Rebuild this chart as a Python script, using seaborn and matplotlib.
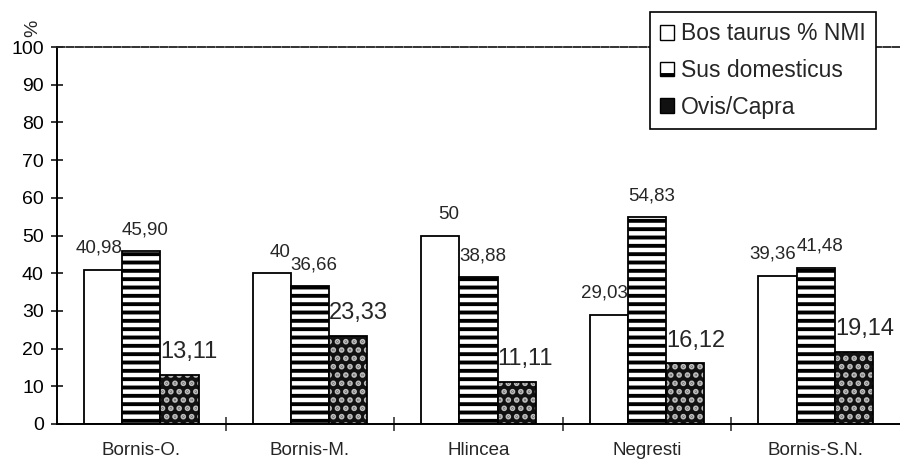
import numpy as np
import pandas as pd
import matplotlib.pyplot as plt
import matplotlib.patches as mpatches
import seaborn as sns

# NMI share per site
sites = ['Bornis-O.', 'Bornis-M.', 'Hlincea', 'Negresti', 'Bornis-S.N.']
species = ['Bos taurus % NMI', 'Sus domesticus', 'Ovis/Capra']
bos = [40.98, 40, 50, 29.03, 39.36]
sus = [45.90, 36.66, 38.88, 54.83, 41.48]
ovis = [13.11, 23.33, 11.11, 16.12, 19.14]
yticks = [0, 10, 20, 30, 40, 50, 60, 70, 80, 90, 100]

df = pd.DataFrame({'site': sites * 3,
                   'species': np.repeat(species, len(sites)),
                   'value': bos + sus + ovis})

sns.set_style('ticks')
plt.rcParams['font.family'] = ['Liberation Sans', 'DejaVu Sans']
plt.rcParams['hatch.linewidth'] = 2.8

fig = plt.figure(figsize=(9, 4.62), dpi=100)
ax = fig.add_axes([57 / 900, 38 / 462, 1 - 57 / 900, 377 / 462])

sns.barplot(data=df, x='site', y='value', hue='species', order=sites, hue_order=species,
            palette=['white', 'white', '#111111'], saturation=1, width=0.68,
            edgecolor='black', linewidth=1.3, legend=False, ax=ax)

for bar in ax.containers[1]:
    bar.set_hatch('--')
for bar in ax.containers[2]:
    bar.set_hatch('..')
    try:
        bar.set_hatchcolor('#bdbdbd')
    except AttributeError:
        bar._hatch_color = (0.74, 0.74, 0.74, 1)


def fmt(v):
    return str(int(v)) if float(v).is_integer() else f'{v:.2f}'.replace('.', ',')


for bar, v in zip(ax.containers[0], bos):
    ax.annotate(fmt(v), (bar.get_x() + bar.get_width(), bar.get_height()), xytext=(0, 12),
                textcoords='offset points', ha='right', va='baseline', fontsize=13.5)
for bar, v in zip(ax.containers[1], sus):
    ax.annotate(fmt(v), (bar.get_x() + bar.get_width() / 2, bar.get_height()), xytext=(3, 12),
                textcoords='offset points', ha='center', va='baseline', fontsize=13.5)
for bar, v in zip(ax.containers[2], ovis):
    ax.annotate(fmt(v), (bar.get_x(), bar.get_height()), xytext=(0, 12),
                textcoords='offset points', ha='left', va='baseline', fontsize=17)

ax.set_xlim(-0.5, len(sites) - 0.5)
ax.set_ylim(0, 100)
ax.set_yticks(yticks)
ax.set_xlabel('')
ax.set_ylabel('')
ax.tick_params(axis='y', direction='inout', length=9, width=1.1, pad=5, labelsize=14, colors='black')
ax.tick_params(axis='x', which='major', length=0, pad=13, labelsize=13.5)
ax.set_xticks(np.arange(0.5, len(sites) - 0.5, 1), minor=True)
ax.tick_params(axis='x', which='minor', direction='inout', length=10, width=1.1)

ax.spines['right'].set_visible(False)
ax.spines['top'].set_linestyle((0, (4, 1.2)))
ax.spines['top'].set_linewidth(1.3)
ax.spines['top'].set_color('#222222')
for side in ['left', 'bottom']:
    ax.spines[side].set_linewidth(1.4)
    ax.spines[side].set_color('black')

handles = [mpatches.Patch(facecolor='white', edgecolor='black', label=species[0]),
           mpatches.Patch(facecolor='white', edgecolor='black', hatch='-', label=species[1]),
           mpatches.Patch(facecolor='#111111', edgecolor='black', label=species[2])]
leg = ax.legend(handles=handles, loc='upper right', bbox_to_anchor=(876 / 900, 1 - 12 / 462),
                bbox_transform=fig.transFigure, fontsize=16.5, frameon=True, fancybox=False,
                edgecolor='black', framealpha=1, handlelength=0.6, handleheight=0.6,
                handletextpad=0.3, labelspacing=0.6, borderpad=0.45, borderaxespad=0)
leg.get_frame().set_linewidth(1.2)

fig.text(33 / 900, 1 - 28 / 462, '%', rotation=90, ha='center', va='center', fontsize=14)

fig.savefig('out.png', dpi=100)
